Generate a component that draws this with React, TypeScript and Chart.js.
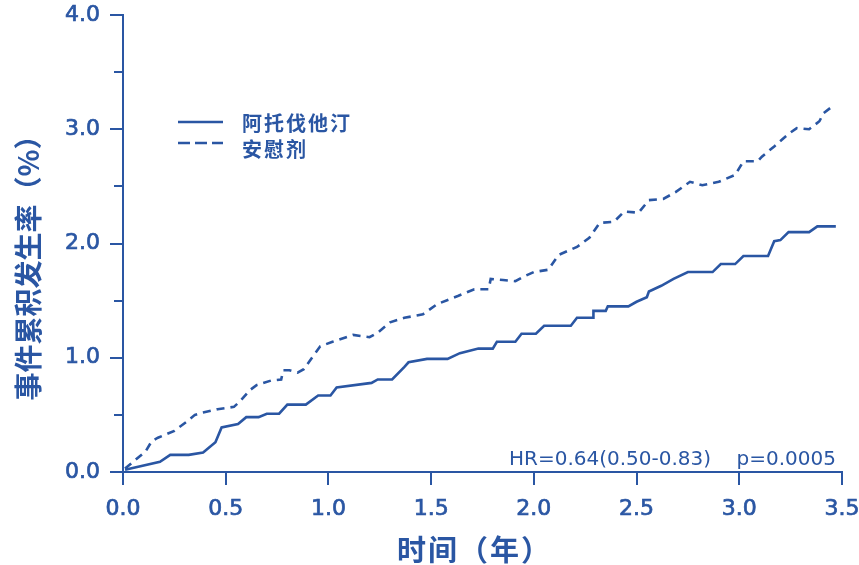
import React, { useEffect, useRef } from "react";
import { Chart, registerables } from "chart.js";

Chart.register(...registerables);

const BLUE = "#2a56a3";

// 阿托伐他汀 (solid)
const atorvaTime = [0.01, 0.18, 0.23, 0.32, 0.39, 0.45, 0.48, 0.56, 0.60, 0.66, 0.70, 0.76, 0.80, 0.89, 0.95, 1.01, 1.04, 1.21, 1.24, 1.31, 1.37, 1.39, 1.48, 1.58, 1.64, 1.73, 1.80, 1.82, 1.91, 1.94, 2.01, 2.05, 2.18, 2.21, 2.29, 2.29, 2.35, 2.36, 2.46, 2.50, 2.55, 2.56, 2.62, 2.68, 2.75, 2.87, 2.91, 2.98, 3.02, 3.14, 3.17, 3.20, 3.24, 3.34, 3.38, 3.47];
const atorvaRate = [0.02, 0.09, 0.15, 0.15, 0.17, 0.26, 0.39, 0.42, 0.48, 0.48, 0.51, 0.51, 0.59, 0.59, 0.67, 0.67, 0.74, 0.78, 0.81, 0.81, 0.92, 0.96, 0.99, 0.99, 1.04, 1.08, 1.08, 1.14, 1.14, 1.21, 1.21, 1.28, 1.28, 1.35, 1.35, 1.41, 1.41, 1.45, 1.45, 1.49, 1.53, 1.58, 1.63, 1.69, 1.75, 1.75, 1.82, 1.82, 1.89, 1.89, 2.02, 2.03, 2.10, 2.10, 2.15, 2.15];

// 安慰剂 (dashed)
const placeboTime = [0.01, 0.11, 0.14, 0.17, 0.21, 0.25, 0.31, 0.35, 0.39, 0.46, 0.54, 0.57, 0.62, 0.65, 0.72, 0.77, 0.78, 0.81, 0.85, 0.88, 0.92, 0.96, 1.02, 1.12, 1.20, 1.24, 1.30, 1.37, 1.43, 1.46, 1.53, 1.63, 1.71, 1.78, 1.79, 1.85, 1.91, 1.95, 2.00, 2.07, 2.12, 2.21, 2.27, 2.32, 2.39, 2.44, 2.51, 2.56, 2.63, 2.69, 2.76, 2.82, 2.90, 2.98, 3.02, 3.09, 3.11, 3.17, 3.24, 3.28, 3.34, 3.39, 3.41, 3.46];
const placeboRate = [0.03, 0.18, 0.27, 0.30, 0.33, 0.36, 0.44, 0.50, 0.52, 0.55, 0.57, 0.62, 0.72, 0.76, 0.80, 0.81, 0.89, 0.89, 0.87, 0.90, 1.00, 1.10, 1.14, 1.20, 1.18, 1.22, 1.31, 1.35, 1.37, 1.38, 1.47, 1.54, 1.60, 1.60, 1.69, 1.68, 1.67, 1.71, 1.75, 1.77, 1.90, 1.97, 2.05, 2.18, 2.19, 2.28, 2.27, 2.38, 2.39, 2.45, 2.54, 2.51, 2.54, 2.60, 2.72, 2.72, 2.76, 2.85, 2.96, 3.01, 3.00, 3.07, 3.14, 3.21];

const seriesNames = ["阿托伐他汀", "安慰剂"];
const xTitle = "时间（年）";
const yTitle = "事件累积发生率（%）";
const hrText = "HR=0.64(0.50-0.83)";
const pText = "p=0.0005";
const yMinorTicks = [0.5, 1.5, 2.5, 3.5];

const decorPlugin = {
  id: "decor",
  afterDraw(chart: any) {
    const ctx = chart.ctx;
    const yScale = chart.scales.y;
    const left = chart.chartArea.left;
    ctx.save();
    ctx.strokeStyle = BLUE;
    ctx.fillStyle = BLUE;
    ctx.lineWidth = 2;
    // minor ticks
    yMinorTicks.forEach((v) => {
      const py = Math.round(yScale.getPixelForValue(v));
      ctx.beginPath();
      ctx.moveTo(left - 9, py);
      ctx.lineTo(left, py);
      ctx.stroke();
    });
    // y title
    ctx.save();
    ctx.translate(28, 261);
    ctx.rotate(-Math.PI / 2);
    ctx.font = 'bold 28px "Noto Sans CJK SC"';
    ctx.textAlign = "center";
    ctx.textBaseline = "middle";
    ctx.fillText(yTitle, 0, 0);
    ctx.restore();
    // x title
    ctx.font = 'bold 29px "Noto Sans CJK SC"';
    (ctx as any).letterSpacing = "2px";
    ctx.textAlign = "left";
    ctx.textBaseline = "middle";
    ctx.fillText(xTitle, 397, 550);
    // legend
    ctx.lineWidth = 2.5;
    ctx.setLineDash([]);
    ctx.beginPath();
    ctx.moveTo(178, 122);
    ctx.lineTo(223, 122);
    ctx.stroke();
    ctx.setLineDash([12, 5]);
    ctx.beginPath();
    ctx.moveTo(178, 143);
    ctx.lineTo(223, 143);
    ctx.stroke();
    ctx.setLineDash([]);
    ctx.font = 'bold 20px "Noto Sans CJK SC"';
    (ctx as any).letterSpacing = "2px";
    ctx.textAlign = "left";
    ctx.textBaseline = "middle";
    ctx.fillText(seriesNames[0], 242, 123);
    ctx.fillText(seriesNames[1], 242, 149);
    (ctx as any).letterSpacing = "0px";
    // HR / p
    ctx.font = '20px "DejaVu Sans"';
    ctx.textBaseline = "alphabetic";
    ctx.textAlign = "left";
    ctx.fillText(hrText, 509, 465);
    ctx.textAlign = "right";
    ctx.fillText(pText, 836, 465);
    ctx.restore();
  },
};

const tickFont = { family: "DejaVu Sans", size: 22 };

export default function App() {
  const ref = useRef<HTMLCanvasElement>(null);
  useEffect(() => {
    if (!ref.current) return;
    const chart = new Chart(ref.current, {
      type: "line",
      data: {
        datasets: [
          {
            label: seriesNames[0],
            data: atorvaTime.map((t, i) => ({ x: t, y: atorvaRate[i] })),
            borderColor: BLUE,
            borderWidth: 2.6,
            pointRadius: 0,
            tension: 0,
            fill: false,
          },
          {
            label: seriesNames[1],
            data: placeboTime.map((t, i) => ({ x: t, y: placeboRate[i] })),
            borderColor: BLUE,
            borderWidth: 2.6,
            borderDash: [8, 6],
            pointRadius: 0,
            tension: 0,
            fill: false,
          },
        ],
      },
      options: {
        responsive: false,
        animation: false,
        layout: { padding: { top: 15, right: 17, left: 0, bottom: 0 } },
        plugins: { legend: { display: false }, tooltip: { enabled: false } },
        scales: {
          x: {
            type: "linear",
            min: 0,
            max: 3.5,
            afterFit: (s: any) => {
              s.height = 93;
              s.paddingLeft = 0;
              s.paddingRight = 0;
            },
            border: { display: true, color: BLUE, width: 2 },
            grid: { display: true, drawOnChartArea: false, tickLength: 13, color: BLUE, lineWidth: 2 },
            ticks: {
              stepSize: 0.5,
              maxRotation: 0,
              padding: 11,
              color: BLUE,
              textStrokeColor: BLUE,
              textStrokeWidth: 0.7,
              font: tickFont,
              callback: (v: any) => Number(v).toFixed(1),
            },
          },
          y: {
            type: "linear",
            min: 0,
            max: 4,
            afterFit: (s: any) => {
              s.width = 123;
              s.paddingTop = 0;
              s.paddingBottom = 0;
            },
            border: { display: true, color: BLUE, width: 2 },
            grid: {
              display: true,
              drawOnChartArea: false,
              tickLength: 13,
              lineWidth: 2,
              color: (c: any) => (c.tick && c.tick.value % 1 === 0 ? BLUE : "rgba(0,0,0,0)"),
            },
            ticks: {
              stepSize: 0.5,
              padding: 10,
              color: BLUE,
              textStrokeColor: BLUE,
              textStrokeWidth: 0.7,
              font: tickFont,
              callback: (v: any) => (Number(v) % 1 === 0 ? Number(v).toFixed(1) : ""),
            },
          },
        },
      },
      plugins: [decorPlugin],
    });
    return () => chart.destroy();
  }, []);
  return (
    <div style={{ position: "absolute", left: 0, top: 0, width: 859, height: 565, background: "#fff" }}>
      <canvas ref={ref} width={859} height={565} />
    </div>
  );
}
